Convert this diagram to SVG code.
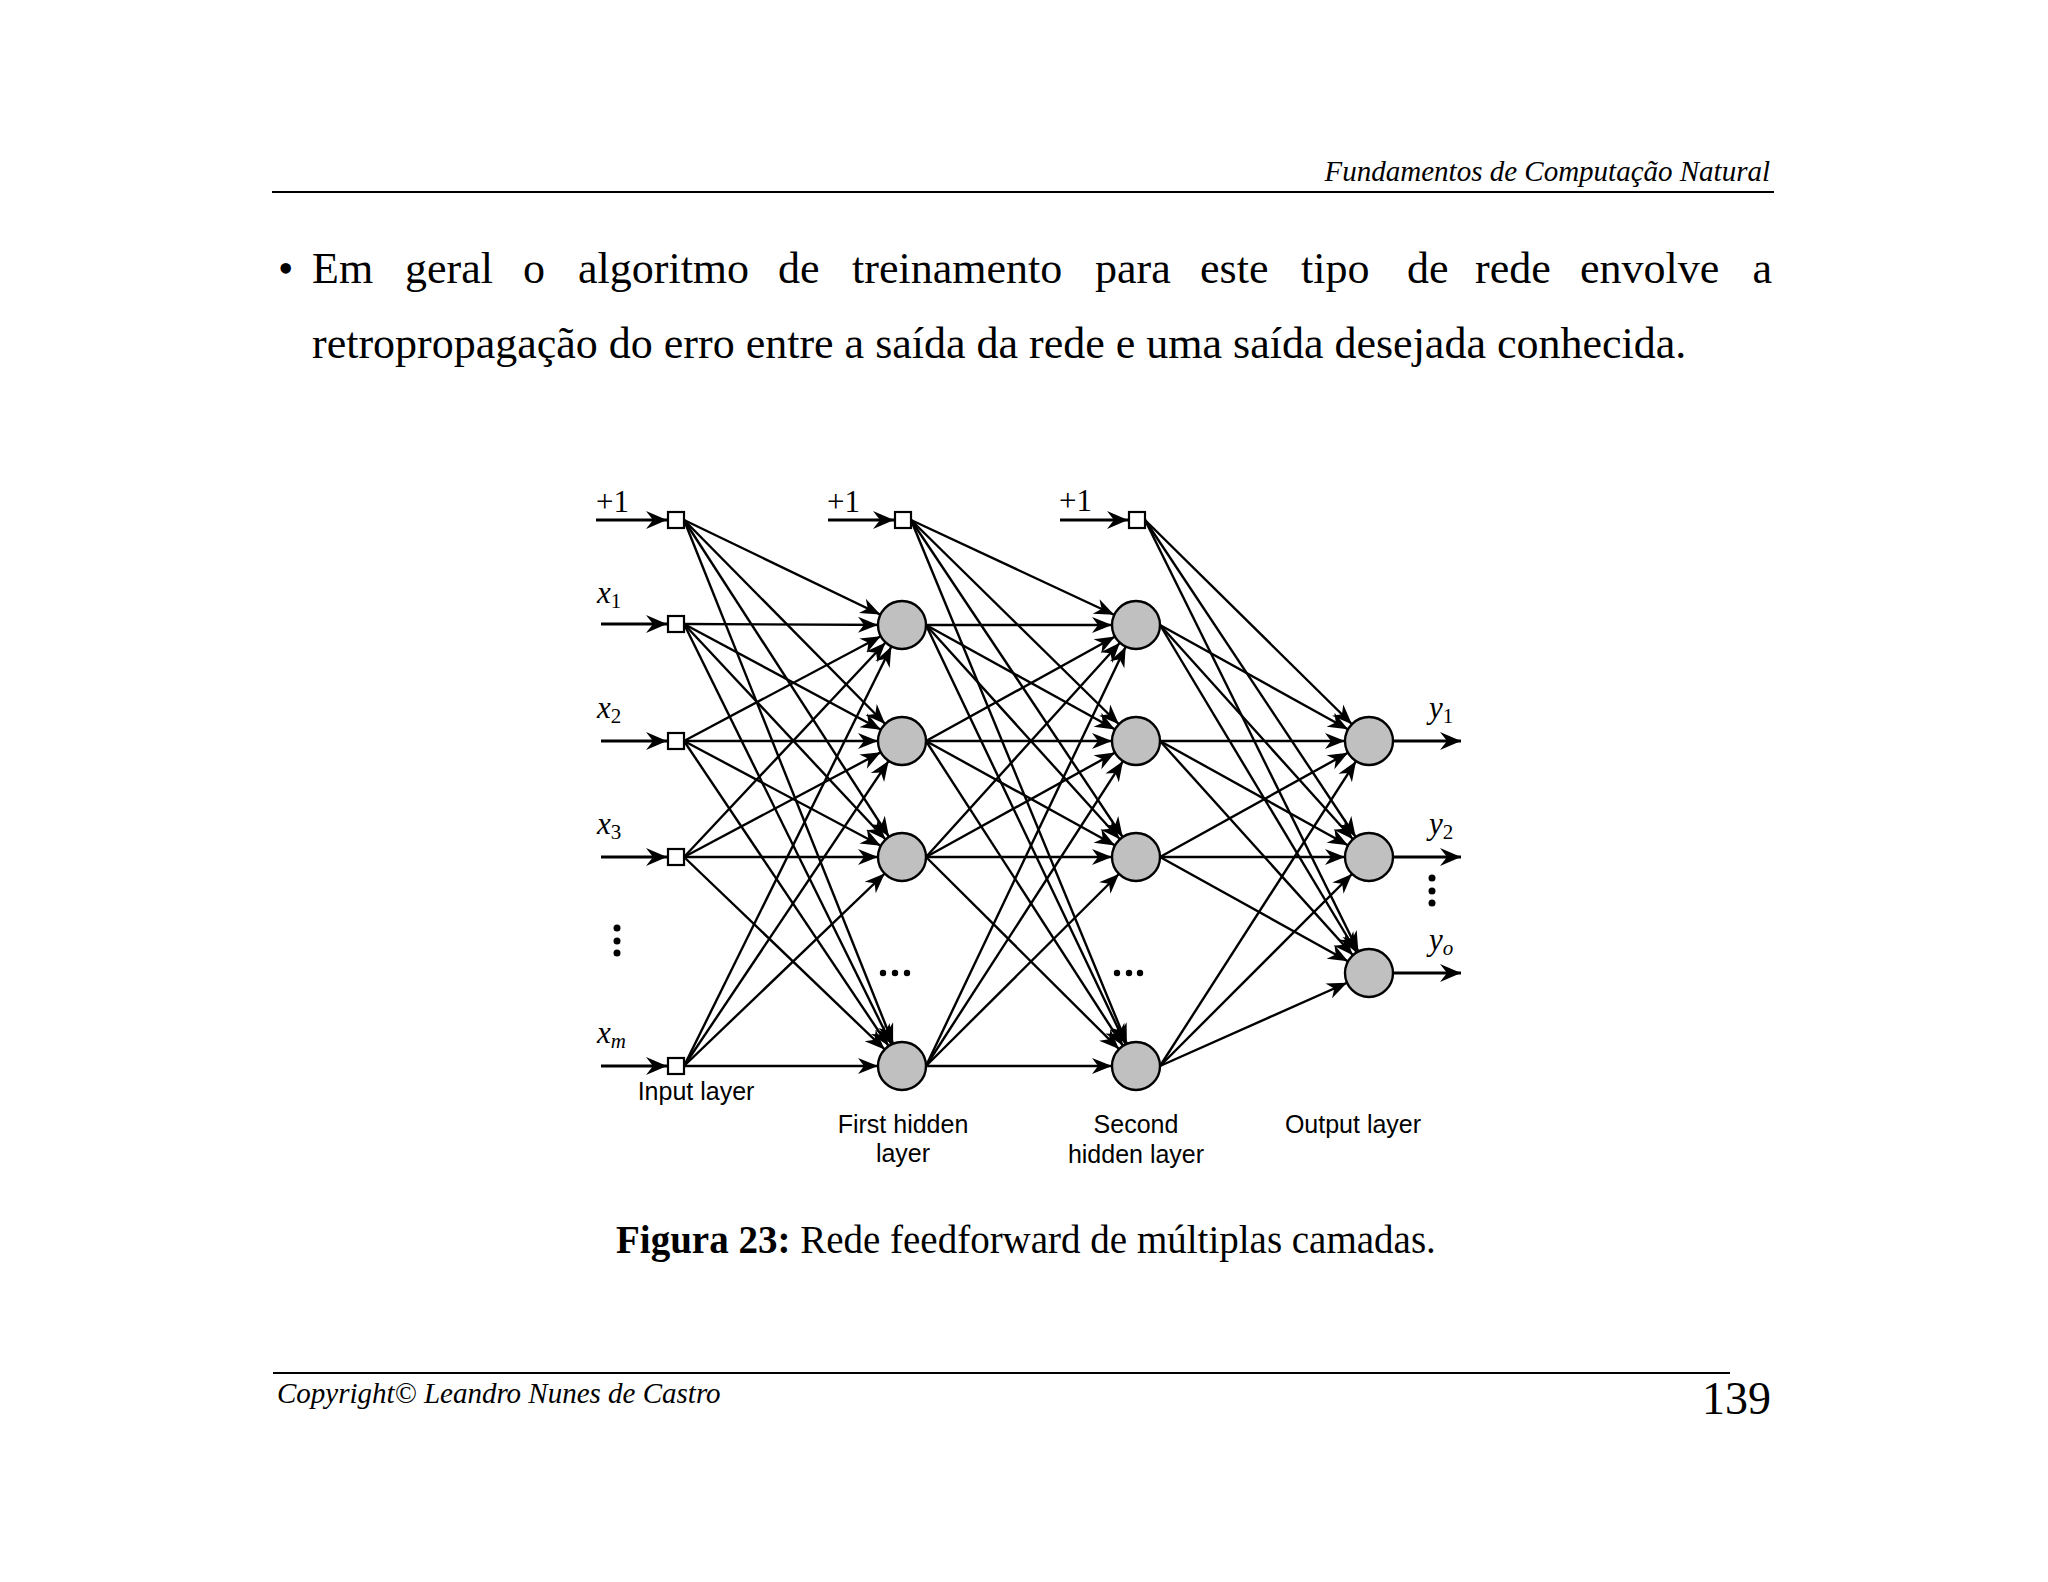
<svg xmlns="http://www.w3.org/2000/svg" width="2048" height="1582" viewBox="0 0 2048 1582">
<style>
.ser{font-family:"Liberation Serif","Times New Roman",serif;fill:#000}
.it{font-style:italic}
.sans{font-family:"Liberation Sans",Arial,sans-serif;fill:#000;font-size:25px;text-anchor:middle}
.body{font-size:44px}
.e{stroke:#000;stroke-width:2.4;fill:none;marker-end:url(#ah)}
.in{stroke:#000;stroke-width:3;fill:none;marker-end:url(#ai)}
.sq{fill:#fff;stroke:#000;stroke-width:2.2}
.nd{fill:#c0c0c0;stroke:#000;stroke-width:2.4}
.lab{font-size:31px}
.sub{font-size:21px}
</style>
<defs>
<marker id="ah" markerUnits="userSpaceOnUse" markerWidth="21" markerHeight="16" refX="44" refY="8" orient="auto" overflow="visible">
<path d="M0,0 L20,8 L0,16 L6,8 Z" fill="#000"/>
</marker>
<marker id="ai" markerUnits="userSpaceOnUse" markerWidth="21" markerHeight="18" refX="21" refY="9" orient="auto" overflow="visible">
<path d="M0,0 L21,9 L0,18 L7,9 Z" fill="#000"/>
</marker>
</defs>
<rect width="2048" height="1582" fill="#fff"/>

<g id="page">
<text class="ser it" x="1770" y="181" font-size="29" text-anchor="end">Fundamentos de Computação Natural</text>
<line x1="272" y1="192" x2="1774" y2="192" stroke="#000" stroke-width="2"/>
<g class="ser body">
<text x="278" y="283">•</text>
<text x="312" y="283">Em</text>
<text x="405" y="283">geral</text>
<text x="523" y="283">o</text>
<text x="578" y="283">algoritmo</text>
<text x="778" y="283">de</text>
<text x="852" y="283">treinamento</text>
<text x="1095" y="283">para</text>
<text x="1200" y="283">este</text>
<text x="1301" y="283">tipo</text>
<text x="1407" y="283">de</text>
<text x="1475" y="283">rede</text>
<text x="1580" y="283">envolve</text>
<text x="1772" y="283" text-anchor="end">a</text>
<text x="312" y="358">retropropagação do erro entre a saída da rede e uma saída desejada conhecida.</text>
</g>
<text class="ser" x="616" y="1253" font-size="39"><tspan font-weight="bold">Figura 23:</tspan> Rede feedforward de múltiplas camadas.</text>
<line x1="273" y1="1373" x2="1730" y2="1373" stroke="#000" stroke-width="2"/>
<text class="ser it" x="277" y="1403" font-size="29">Copyright© Leandro Nunes de Castro</text>
<text class="ser" x="1771" y="1414" font-size="46" text-anchor="end">139</text>
</g>

<g id="connectors">
<!-- external inputs -->
<line class="in" x1="596" y1="520" x2="667" y2="520"/>
<line class="in" x1="601" y1="624" x2="667" y2="624"/>
<line class="in" x1="601" y1="741" x2="667" y2="741"/>
<line class="in" x1="601" y1="857" x2="667" y2="857"/>
<line class="in" x1="601" y1="1066" x2="667" y2="1066"/>
<line class="in" x1="828" y1="520" x2="894" y2="520"/>
<line class="in" x1="1060" y1="520" x2="1128" y2="520"/>
<!-- input layer to first hidden -->
<line class="e" x1="684" y1="520" x2="902" y2="625"/>
<line class="e" x1="684" y1="520" x2="902" y2="741"/>
<line class="e" x1="684" y1="520" x2="902" y2="857"/>
<line class="e" x1="684" y1="520" x2="902" y2="1066"/>
<line class="e" x1="684" y1="624" x2="902" y2="625"/>
<line class="e" x1="684" y1="624" x2="902" y2="741"/>
<line class="e" x1="684" y1="624" x2="902" y2="857"/>
<line class="e" x1="684" y1="624" x2="902" y2="1066"/>
<line class="e" x1="684" y1="741" x2="902" y2="625"/>
<line class="e" x1="684" y1="741" x2="902" y2="741"/>
<line class="e" x1="684" y1="741" x2="902" y2="857"/>
<line class="e" x1="684" y1="741" x2="902" y2="1066"/>
<line class="e" x1="684" y1="857" x2="902" y2="625"/>
<line class="e" x1="684" y1="857" x2="902" y2="741"/>
<line class="e" x1="684" y1="857" x2="902" y2="857"/>
<line class="e" x1="684" y1="857" x2="902" y2="1066"/>
<line class="e" x1="684" y1="1066" x2="902" y2="625"/>
<line class="e" x1="684" y1="1066" x2="902" y2="741"/>
<line class="e" x1="684" y1="1066" x2="902" y2="857"/>
<line class="e" x1="684" y1="1066" x2="902" y2="1066"/>
<!-- first hidden to second hidden -->
<line class="e" x1="911" y1="520" x2="1136" y2="625"/>
<line class="e" x1="911" y1="520" x2="1136" y2="741"/>
<line class="e" x1="911" y1="520" x2="1136" y2="857"/>
<line class="e" x1="911" y1="520" x2="1136" y2="1066"/>
<line class="e" x1="926" y1="625" x2="1136" y2="625"/>
<line class="e" x1="926" y1="625" x2="1136" y2="741"/>
<line class="e" x1="926" y1="625" x2="1136" y2="857"/>
<line class="e" x1="926" y1="625" x2="1136" y2="1066"/>
<line class="e" x1="926" y1="741" x2="1136" y2="625"/>
<line class="e" x1="926" y1="741" x2="1136" y2="741"/>
<line class="e" x1="926" y1="741" x2="1136" y2="857"/>
<line class="e" x1="926" y1="741" x2="1136" y2="1066"/>
<line class="e" x1="926" y1="857" x2="1136" y2="625"/>
<line class="e" x1="926" y1="857" x2="1136" y2="741"/>
<line class="e" x1="926" y1="857" x2="1136" y2="857"/>
<line class="e" x1="926" y1="857" x2="1136" y2="1066"/>
<line class="e" x1="926" y1="1066" x2="1136" y2="625"/>
<line class="e" x1="926" y1="1066" x2="1136" y2="741"/>
<line class="e" x1="926" y1="1066" x2="1136" y2="857"/>
<line class="e" x1="926" y1="1066" x2="1136" y2="1066"/>
<!-- second hidden to output -->
<line class="e" x1="1145" y1="520" x2="1369" y2="741"/>
<line class="e" x1="1145" y1="520" x2="1369" y2="857"/>
<line class="e" x1="1145" y1="520" x2="1369" y2="973"/>
<line class="e" x1="1160" y1="625" x2="1369" y2="741"/>
<line class="e" x1="1160" y1="625" x2="1369" y2="857"/>
<line class="e" x1="1160" y1="625" x2="1369" y2="973"/>
<line class="e" x1="1160" y1="741" x2="1369" y2="741"/>
<line class="e" x1="1160" y1="741" x2="1369" y2="857"/>
<line class="e" x1="1160" y1="741" x2="1369" y2="973"/>
<line class="e" x1="1160" y1="857" x2="1369" y2="741"/>
<line class="e" x1="1160" y1="857" x2="1369" y2="857"/>
<line class="e" x1="1160" y1="857" x2="1369" y2="973"/>
<line class="e" x1="1160" y1="1066" x2="1369" y2="741"/>
<line class="e" x1="1160" y1="1066" x2="1369" y2="857"/>
<line class="e" x1="1160" y1="1066" x2="1369" y2="973"/>
<!-- outputs -->
<line class="in" x1="1393" y1="741" x2="1461" y2="741"/>
<line class="in" x1="1393" y1="857" x2="1461" y2="857"/>
<line class="in" x1="1393" y1="973" x2="1461" y2="973"/>
</g>

<g id="input-layer">
<rect id="in-bias" class="sq" x="668" y="512" width="16" height="16"/>
<rect id="in-x1" class="sq" x="668" y="616" width="16" height="16"/>
<rect id="in-x2" class="sq" x="668" y="733" width="16" height="16"/>
<rect id="in-x3" class="sq" x="668" y="849" width="16" height="16"/>
<rect id="in-xm" class="sq" x="668" y="1058" width="16" height="16"/>
</g>
<g id="hidden1">
<rect id="h1-bias" class="sq" x="895" y="512" width="16" height="16"/>
<circle id="h1-n1" class="nd" cx="902" cy="625" r="24"/>
<circle id="h1-n2" class="nd" cx="902" cy="741" r="24"/>
<circle id="h1-n3" class="nd" cx="902" cy="857" r="24"/>
<circle id="h1-n4" class="nd" cx="902" cy="1066" r="24"/>
</g>
<g id="hidden2">
<rect id="h2-bias" class="sq" x="1129" y="512" width="16" height="16"/>
<circle id="h2-n1" class="nd" cx="1136" cy="625" r="24"/>
<circle id="h2-n2" class="nd" cx="1136" cy="741" r="24"/>
<circle id="h2-n3" class="nd" cx="1136" cy="857" r="24"/>
<circle id="h2-n4" class="nd" cx="1136" cy="1066" r="24"/>
</g>
<g id="output-layer">
<circle id="out-1" class="nd" cx="1369" cy="741" r="24"/>
<circle id="out-2" class="nd" cx="1369" cy="857" r="24"/>
<circle id="out-3" class="nd" cx="1369" cy="973" r="24"/>
</g>

<g id="labels">
<text class="ser lab" x="596" y="512">+1</text>
<text class="ser lab" x="827" y="512">+1</text>
<text class="ser lab" x="1059" y="511">+1</text>
<text class="ser lab" x="597" y="603"><tspan class="it">x</tspan><tspan class="sub" dy="5">1</tspan></text>
<text class="ser lab" x="597" y="718"><tspan class="it">x</tspan><tspan class="sub" dy="5">2</tspan></text>
<text class="ser lab" x="597" y="834"><tspan class="it">x</tspan><tspan class="sub" dy="5">3</tspan></text>
<text class="ser lab" x="597" y="1043"><tspan class="it">x</tspan><tspan class="sub it" dy="5">m</tspan></text>
<text class="ser lab" x="1429" y="718"><tspan class="it">y</tspan><tspan class="sub" dy="5">1</tspan></text>
<text class="ser lab" x="1429" y="834"><tspan class="it">y</tspan><tspan class="sub" dy="5">2</tspan></text>
<text class="ser lab" x="1429" y="950"><tspan class="it">y</tspan><tspan class="sub it" dy="5">o</tspan></text>
<g fill="#000">
<circle cx="617" cy="928" r="3.5"/><circle cx="617" cy="941" r="3.5"/><circle cx="617" cy="953" r="3.5"/>
<circle cx="1432" cy="878" r="3.5"/><circle cx="1432" cy="891" r="3.5"/><circle cx="1432" cy="903" r="3.5"/>
<circle cx="883" cy="973" r="3.2"/><circle cx="895" cy="973" r="3.2"/><circle cx="907" cy="973" r="3.2"/>
<circle cx="1117" cy="973" r="3.2"/><circle cx="1129" cy="973" r="3.2"/><circle cx="1140" cy="973" r="3.2"/>
</g>
<text class="sans" x="696" y="1100">Input layer</text>
<text class="sans" x="903" y="1133">First hidden</text>
<text class="sans" x="903" y="1162">layer</text>
<text class="sans" x="1136" y="1133">Second</text>
<text class="sans" x="1136" y="1163">hidden layer</text>
<text class="sans" x="1353" y="1133">Output layer</text>
</g>
</svg>
